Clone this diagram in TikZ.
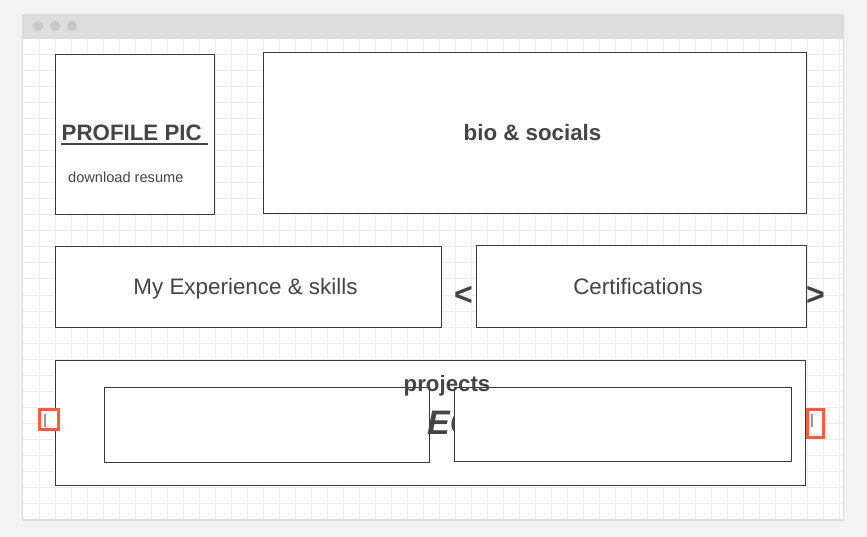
\documentclass[tikz,border=0pt]{standalone}
\usepackage{fontspec}
\setmainfont{Liberation Sans}
\definecolor{pagebg}{HTML}{F3F3F3}
\definecolor{headbg}{HTML}{DDDDDD}
\definecolor{dotc}{HTML}{C8C8C8}
\definecolor{gridc}{HTML}{EDEDED}
\definecolor{edgec}{HTML}{DCDCDC}
\definecolor{boxc}{HTML}{3A3A3A}
\definecolor{txtc}{HTML}{454545}
\definecolor{redc}{HTML}{FF5C40}
\definecolor{barc}{HTML}{9A9A9A}
\tikzset{
  wbox/.style={draw=boxc, line width=0.9pt, fill=white},
  lbl/.style={text=txtc, inner sep=0pt, font=\fontsize{22.4}{26}\selectfont},
  blbl/.style={lbl, font=\fontsize{22.3}{26}\selectfont\bfseries},
  redbox/.style={draw=redc, line width=3pt, fill=white},
  bar/.style={draw=barc, line width=2pt},
  hdot/.style={circle, fill=dotc, inner sep=0pt, minimum size=10pt}
}
\begin{document}
\begin{tikzpicture}[x=1pt,y=-1pt]
\useasboundingbox (0,0) rectangle (867,537);
\fill[pagebg] (0,0) rectangle (867,537);
% window
\fill[edgec] (22,14) rectangle (844,521);
\fill[headbg, rounded corners=4pt] (23,14) rectangle (843,48);
\fill[white] (23,39) rectangle (843,519);
\node[hdot] (d1) at (38,26) {};
\node[hdot] (d2) at (55,26) {};
\node[hdot] (d3) at (72,26) {};
% grid
\begin{scope}
\clip (23,39) rectangle (843,519);
\foreach \x in {39,55,...,839} \draw[gridc, line width=1pt] (\x,39) -- (\x,519);
\foreach \y in {55,71,...,503} \draw[gridc, line width=1pt] (23,\y) -- (843,\y);
\end{scope}
% profile box
\draw[wbox] (55.5,54.5) rectangle (214.5,214.5);
\node[blbl, anchor=base west] (prof) at (61.5,141) {PROFILE PIC};
\draw[txtc, line width=2pt] (61,144.5) -- (208,144.5);
\node[lbl, anchor=base west, font=\fontsize{14.6}{17}\selectfont] (dl) at (68,183) {download resume};
% bio
\draw[wbox] (263.5,52.5) rectangle (806.5,213.5);
\node[blbl, anchor=base] (bio) at (532.5,141) {bio \& socials};
% experience
\draw[wbox] (55.5,246.5) rectangle (441.5,327.5);
\node[lbl, anchor=base] (exp) at (245.5,294.5) {My Experience \& skills};
% certifications
\draw[wbox] (476.5,245.5) rectangle (806.5,327.5);
\node[lbl, anchor=base] (cert) at (638,294.5) {Certifications};
\node[lbl, font=\fontsize{32}{36}\selectfont\bfseries] (lt) at (463.5,295.5) {<};
\node[lbl, font=\fontsize{32}{36}\selectfont\bfseries] (gt) at (815.5,295.5) {>};
% projects
\draw[wbox] (55.5,360.5) rectangle (805.5,485.5);
\draw[wbox] (104.5,387.5) rectangle (429.5,462.5);
\node[lbl, anchor=base west, font=\fontsize{34}{40}\selectfont\bfseries\itshape] (eo) at (427,434.5) {EC};
\draw[wbox] (454.5,387.5) rectangle (791.5,461.5);
\node[blbl, anchor=base] (proj) at (447,391) {projects};
% red handles
\draw[redbox] (39.5,409) rectangle (58.5,429.5);
\draw[bar] (44.7,414) -- (44.7,426.5);
\draw[redbox] (807,409) rectangle (823,437);
\draw[bar] (812,414) -- (812,426.5);
\end{tikzpicture}
\end{document}
